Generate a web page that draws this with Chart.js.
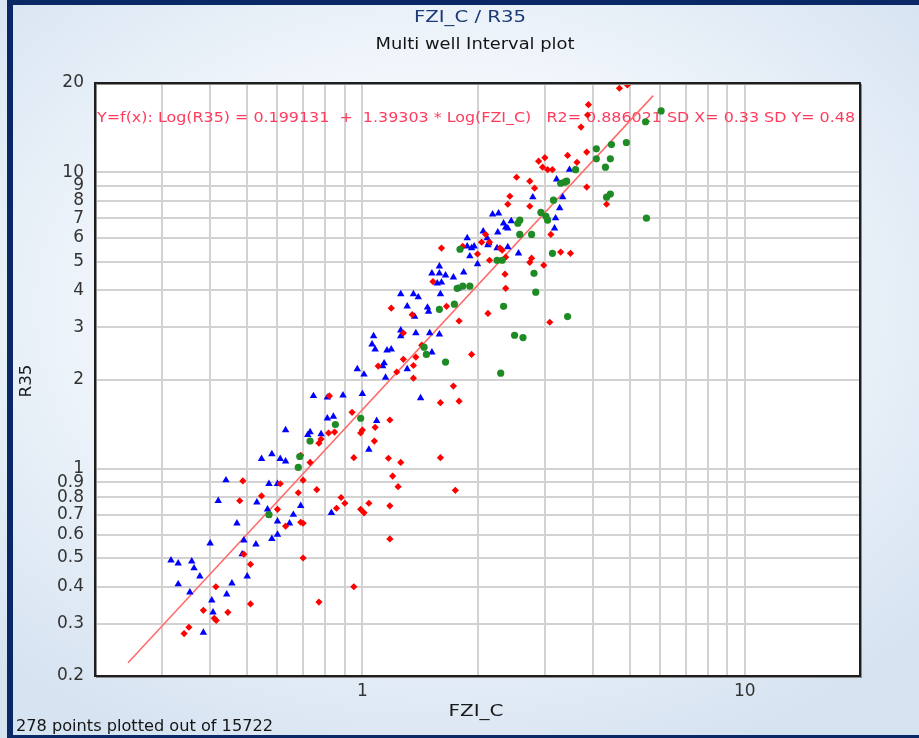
<!DOCTYPE html>
<html>
<head>
<meta charset="utf-8">
<script src="https://cdn.jsdelivr.net/npm/chart.js@4.4.1/dist/chart.umd.min.js"></script>
<style>
  html, body { margin: 0; padding: 0; width: 919px; height: 738px; overflow: hidden; }
  body {
    position: relative;
    background: radial-gradient(ellipse 70% 65% at 48% 42%, #ffffff 0%, #f1f6fb 50%, #d6e3f1 100%);
  }
  .bar { position: absolute; background: #0b2866; }
  #barLeft { left: 7px; top: 0; width: 6px; height: 738px; }
  #barTop { left: 7px; top: 0; width: 912px; height: 5px; }
  #barBottom { left: 7px; top: 735px; width: 912px; height: 3px; }
  canvas { position: absolute; left: 0; top: 0; }
</style>
</head>
<body>
<div class="bar" id="barLeft"></div>
<div class="bar" id="barTop"></div>
<div class="bar" id="barBottom"></div>
<canvas id="plot" width="919" height="738"></canvas>
<script>
// FZI_C (x) against R35 (y), one list of [FZI_C, R35] pairs per well
const wellA = [ // blue triangles
  [0.545,1.08],[0.58,1.12],[0.61,1.08],[0.63,1.06],[0.44,0.915],[0.57,0.89],[0.60,0.89],[0.42,0.78],
  [0.53,0.77],[0.565,0.73],[0.69,0.75],[0.66,0.70],[0.60,0.665],[0.645,0.655],[0.47,0.655],[0.83,0.71],
  [0.58,0.58],[0.60,0.60],[0.49,0.574],[0.527,0.556],[0.40,0.56],[0.485,0.515],[0.316,0.491],[0.33,0.48],
  [0.358,0.487],[0.363,0.462],[0.376,0.434],[0.50,0.434],[0.33,0.408],[0.456,0.411],[0.354,0.383],[0.442,0.377],
  [0.404,0.36],[0.407,0.328],[0.384,0.28],[1.04,1.16],
  [0.745,1.76],[0.81,1.74],[0.89,1.77],[1.0,1.79],[0.81,1.48],[0.84,1.50],[0.72,1.30],[0.73,1.33],
  [0.78,1.31],[1.09,1.45],[0.63,1.35],[0.97,2.17],[1.01,2.08],[1.15,2.03],[1.31,2.17],[1.42,1.73],
  [1.14,2.27],[1.13,2.22],[1.07,2.80],[1.06,2.63],[1.08,2.53],[1.16,2.51],[1.19,2.53],[1.26,2.93],
  [1.26,2.80],[1.38,2.87],[1.50,2.87],[1.59,2.84],[1.52,2.47],[1.26,3.88],[1.36,3.88],[1.40,3.79],
  [1.31,3.53],[1.37,3.26],[1.48,3.50],[1.49,3.39],[1.60,3.88],[1.57,4.22],[1.61,4.25],[1.78,4.06],
  [1.52,4.56],[1.59,4.56],[1.65,4.49],[1.73,4.42],[1.84,4.60],[1.59,4.82],[1.91,5.21],[2.0,4.90],
  [1.88,6.0],[1.88,5.63],[1.93,5.55],[1.96,5.63],[2.07,6.32],[2.12,6.0],[2.13,5.68],[2.14,5.77],
  [2.25,5.55],[2.26,6.27],[2.19,7.21],[2.27,7.27],[2.34,6.73],[2.37,6.52],[2.45,6.84],[2.40,6.47],
  [2.40,5.59],[2.56,5.33],[2.79,8.24],[3.22,9.47],[3.48,10.2],[3.34,8.24],[3.28,7.57],[3.20,7.0],[3.18,6.47]
];

const wellB = [ // red diamonds
  [0.69,1.11],[0.73,1.05],[0.95,1.09],[1.17,1.085],[1.26,1.05],[1.60,1.09],[1.20,0.945],[1.24,0.87],
  [1.75,0.846],[0.487,0.91],[0.61,0.89],[0.70,0.915],[0.68,0.83],[0.76,0.85],[0.478,0.78],[0.545,0.81],
  [0.88,0.80],[0.90,0.765],[0.856,0.736],[1.04,0.765],[0.99,0.73],[1.01,0.71],[1.18,0.75],[0.60,0.73],
  [0.69,0.66],[0.70,0.655],[0.63,0.64],[1.18,0.58],[0.49,0.515],[0.51,0.476],[0.70,0.50],[0.414,0.40],
  [0.95,0.40],[0.51,0.35],[0.77,0.355],[0.384,0.333],[0.445,0.328],[0.41,0.313],[0.415,0.308],[0.352,0.292],
  [0.342,0.278],
  [0.82,1.76],[0.94,1.55],[1.18,1.46],[1.08,1.38],[1.0,1.35],[0.99,1.32],[0.816,1.32],[0.846,1.33],
  [0.78,1.26],[0.77,1.22],[1.075,1.24],[1.10,2.22],[1.23,2.12],[1.36,2.02],[1.28,2.34],[1.38,2.38],
  [1.36,2.23],[1.43,2.61],[1.28,2.87],[1.19,3.48],[1.35,3.31],[1.66,3.53],[1.79,3.15],[1.53,4.28],
  [1.93,2.43],[1.73,1.90],[1.60,1.67],[1.79,1.69],
  [1.61,5.55],[1.83,5.63],[2.0,5.30],[2.05,5.81],[2.10,6.17],[2.15,5.81],[2.15,5.05],[2.29,5.55],
  [2.32,5.46],[2.37,5.17],[2.13,3.34],[2.36,4.53],[2.37,4.06],[2.74,4.97],[2.77,5.13],[2.98,4.86],
  [3.30,5.38],[3.50,5.33],[3.09,3.12],[3.11,6.17],[2.74,7.68],[2.40,7.80],[2.43,8.30],[2.53,9.62],
  [2.74,9.33],[2.82,8.84],[2.89,10.9],[3.0,11.2],[2.96,10.4],[3.05,10.2],[3.14,10.2],[3.44,11.4],
  [3.64,10.8],[3.86,11.7],[3.73,14.2],[3.88,15.6],[3.90,16.9],[4.70,19.2],[4.93,19.7],[3.86,8.91],[4.35,7.80]
];

const wellC = [ // green circles
  [0.686,1.10],[0.68,1.01],[0.57,0.70],[0.73,1.24],[0.85,1.41],[0.99,1.48],[1.45,2.57],[1.47,2.43],
  [1.65,2.29],[1.59,3.45],[1.74,3.59],[1.83,4.13],[1.91,4.13],[1.77,4.06],[1.80,5.50],[2.25,5.05],
  [2.32,5.05],[2.34,3.53],[2.81,4.56],[2.84,3.94],[3.44,3.26],[2.50,2.82],[2.63,2.77],[2.30,2.10],
  [3.14,5.33],[2.55,6.73],[2.58,6.89],[2.58,6.17],[2.77,6.17],[2.93,7.32],[3.02,7.10],[3.05,6.89],
  [3.16,8.05],[3.30,9.18],[3.38,9.26],[3.42,9.33],[3.61,10.2],[4.09,12.0],[4.09,11.1],[4.32,10.4],
  [4.45,11.1],[4.48,12.4],[4.90,12.6],[5.50,14.8],[6.04,16.1],[4.35,8.24],[4.45,8.44],[5.53,7.0]
];

// Log-log fit: Log(R35) = fitIntercept + fitSlope * Log(FZI_C), drawn across fitRange
const fitIntercept = 0.199131;
const fitSlope = 1.39303;
const fitR2 = 0.886021;
const fitSdX = 0.33;
const fitSdY = 0.48;
const fitRange = [0.244, 5.76];

// Axis ticks
const xTickValues = [0.2,0.3,0.4,0.5,0.6,0.7,0.8,0.9,1,2,3,4,5,6,7,8,9,10,20];
const xLabeledTicks = [1, 10];
const yTickValues = [0.2,0.3,0.4,0.5,0.6,0.7,0.8,0.9,1,2,3,4,5,6,7,8,9,10,20];

const titleText = 'FZI_C / R35';
const subtitleText = 'Multi well Interval plot';
const xTitle = 'FZI_C';
const yTitle = 'R35';
const footerText = '278 points plotted out of 15722';
const equationText = 'Y=f(x): Log(R35) = ' + fitIntercept + '  +  ' + fitSlope +
  ' * Log(FZI_C)   R2= ' + fitR2 + ' SD X= ' + fitSdX.toFixed(2) + ' SD Y= ' + fitSdY.toFixed(2);

const toPoints = arr => arr.map(([x, y]) => ({ x, y }));
const fitLine = fitRange.map(x => ({ x, y: Math.pow(10, fitIntercept + fitSlope * Math.log10(x)) }));

// Draw a single line of text stretched to a given width
function drawFitted(ctx, text, x, cy, width, font, color, align) {
  ctx.save();
  ctx.font = font;
  ctx.fillStyle = color;
  ctx.textBaseline = 'middle';
  ctx.textAlign = 'left';
  const w = ctx.measureText(text).width;
  ctx.translate(align === 'center' ? x - width / 2 : x, cy);
  ctx.scale(width / w, 1);
  ctx.fillText(text, 0, 0);
  ctx.restore();
}

const UI_FONT = '"DejaVu Sans Condensed", "DejaVu Sans", sans-serif';

const plotDecor = {
  id: 'plotDecor',
  beforeDraw(chart) {
    const { ctx, chartArea: a } = chart;
    ctx.save();
    ctx.fillStyle = '#ffffff';
    ctx.fillRect(a.left, a.top, a.right - a.left, a.bottom - a.top);
    ctx.restore();
  },
  beforeDatasetsDraw(chart) {
    const { ctx, chartArea: a } = chart;
    drawFitted(ctx, equationText, a.left + 2, 118, 758, '14px "DejaVu Sans", sans-serif', '#ff3c5e', 'left');
  },
  afterDraw(chart) {
    const { ctx, chartArea: a } = chart;
    ctx.save();
    // plot frame
    ctx.strokeStyle = '#8a8a8a';
    ctx.lineWidth = 1;
    ctx.strokeRect(a.left + 1.5, a.top + 1.5, a.right - a.left, a.bottom - a.top);
    ctx.strokeStyle = '#1e1e1e';
    ctx.lineWidth = 2;
    ctx.strokeRect(a.left, a.top, a.right - a.left, a.bottom - a.top);
    ctx.restore();

    drawFitted(ctx, titleText, 470, 18, 112, '16px ' + UI_FONT, '#1b3a78', 'center');
    drawFitted(ctx, subtitleText, 475, 45, 199, '16px ' + UI_FONT, '#151515', 'center');
    drawFitted(ctx, xTitle, 476, 712, 55, '16px ' + UI_FONT, '#1a1a1a', 'center');
    drawFitted(ctx, footerText, 16, 727, 257, '16px ' + UI_FONT, '#151515', 'left');

    ctx.save();
    ctx.translate(27, 381);
    ctx.rotate(-Math.PI / 2);
    drawFitted(ctx, yTitle, 0, 0, 33, '16px ' + UI_FONT, '#1a1a1a', 'center');
    ctx.restore();
  }
};

const gridStyle = { color: '#d2d2d2', lineWidth: 2, drawTicks: false };
const tickFont = { family: '"DejaVu Sans", sans-serif', size: 17 };

new Chart(document.getElementById('plot'), {
  type: 'scatter',
  data: {
    datasets: [
      { label: 'wellC', data: toPoints(wellC), pointStyle: 'circle', pointRadius: 3.6,
        backgroundColor: '#1f8b24', borderWidth: 0 },
      { label: 'wellB', data: toPoints(wellB), pointStyle: 'rectRot', pointRadius: 3.6,
        backgroundColor: '#ff0000', borderWidth: 0 },
      { label: 'wellA', data: toPoints(wellA), pointStyle: 'triangle', pointRadius: 4.3,
        backgroundColor: '#0000ff', borderWidth: 0 },
      { type: 'line', label: 'fit', data: fitLine, showLine: true, pointRadius: 0,
        borderColor: '#ff6a6a', borderWidth: 1.5, fill: false }
    ]
  },
  options: {
    responsive: false,
    animation: false,
    events: [],
    layout: { padding: { top: 83, right: 59, bottom: 0, left: 0 } },
    plugins: { legend: { display: false }, tooltip: { enabled: false }, title: { display: false } },
    scales: {
      x: {
        type: 'logarithmic', min: 0.2, max: 20,
        grid: gridStyle, border: { display: false },
        afterBuildTicks: s => { s.ticks = xTickValues.map(value => ({ value })); },
        afterFit: s => { s.height = 62; },
        ticks: {
          autoSkip: false, maxRotation: 0, padding: 5, color: '#333', font: tickFont,
          callback: v => (xLabeledTicks.includes(v) ? String(v) : '')
        }
      },
      y: {
        type: 'logarithmic', min: 0.2, max: 20,
        grid: gridStyle, border: { display: false },
        afterBuildTicks: s => { s.ticks = yTickValues.map(value => ({ value })); },
        afterFit: s => { s.width = 95; },
        ticks: {
          autoSkip: false, padding: 11, color: '#333', font: tickFont,
          callback: v => String(v)
        }
      }
    }
  },
  plugins: [plotDecor]
});
</script>
</body>
</html>
